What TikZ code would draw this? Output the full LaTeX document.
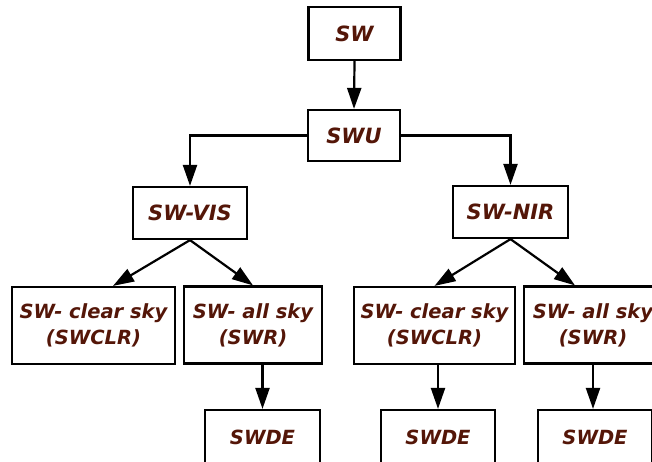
\documentclass[tikz,border=0pt]{standalone}
\usepackage{fontspec}
\setmainfont{DejaVu Sans}
\usetikzlibrary{arrows.meta}
\definecolor{txtbrown}{RGB}{84,22,8}
\tikzset{
  box/.style={draw=black, line width=2.2pt, fill=white, align=center, text=txtbrown,
    font=\fontsize{19.5}{26}\selectfont\bfseries\itshape, inner sep=0pt},
  bigbox/.style={box, font=\fontsize{21}{26}\selectfont\bfseries\itshape},
  conn/.style={line width=2.2pt, -{Triangle[length=21pt,width=14pt]}},
}
\begin{document}
\begin{tikzpicture}[x=1pt,y=1pt]
\useasboundingbox (0,0) rectangle (652,-461);
\clip (0,0) rectangle (652,-461);
\node[bigbox, minimum width=92pt, minimum height=53pt] (sw) at (354.5,-33.5) {SW};
\node[bigbox, minimum width=92pt, minimum height=51pt] (swu) at (354,-135.5) {SWU};
\node[bigbox, minimum width=114pt, minimum height=52pt] (vis) at (190,-213) {SW-VIS};
\node[bigbox, minimum width=115pt, minimum height=52pt] (nir) at (510.5,-212) {SW-NIR};
\node[box, minimum width=163pt, minimum height=77pt] (lc) at (93.5,-325.5) {SW- clear sky\\(SWCLR)};
\node[box, minimum width=138pt, minimum height=77pt] (la) at (253,-325) {SW- all sky\\(SWR)};
\node[box, minimum width=115pt, minimum height=54pt] (ld) at (262.5,-437) {SWDE};
\node[box, minimum width=161pt, minimum height=77pt] (rc) at (434.5,-325.5) {SW- clear sky\\(SWCLR)};
\node[box, minimum width=138pt, minimum height=77pt] (ra) at (593,-325) {SW- all sky\\(SWR)};
\node[box, minimum width=114pt, minimum height=54pt] (rcd) at (438,-437) {SWDE};
\node[box, minimum width=114pt, minimum height=54pt] (rad) at (595,-437) {SWDE};

\draw[conn] (sw.south) -- (swu.north);
\draw[conn] (swu.west) -| (vis.north);
\draw[conn] (swu.east) -| (nir.north);
\draw[conn] (vis.south) -- ([xshift=19.5pt]lc.north);
\draw[conn] (vis.south) -- (la.north);
\draw[conn] (nir.south) -- (rc.north);
\draw[conn] (nir.south) -- ([xshift=-18pt]ra.north);
\draw[conn] (ld.north |- la.south) -- (ld.north);
\draw[conn] (rcd.north |- rc.south) -- (rcd.north);
\draw[conn] (ra.south) -- (ra.south |- rad.north);
\end{tikzpicture}
\end{document}
